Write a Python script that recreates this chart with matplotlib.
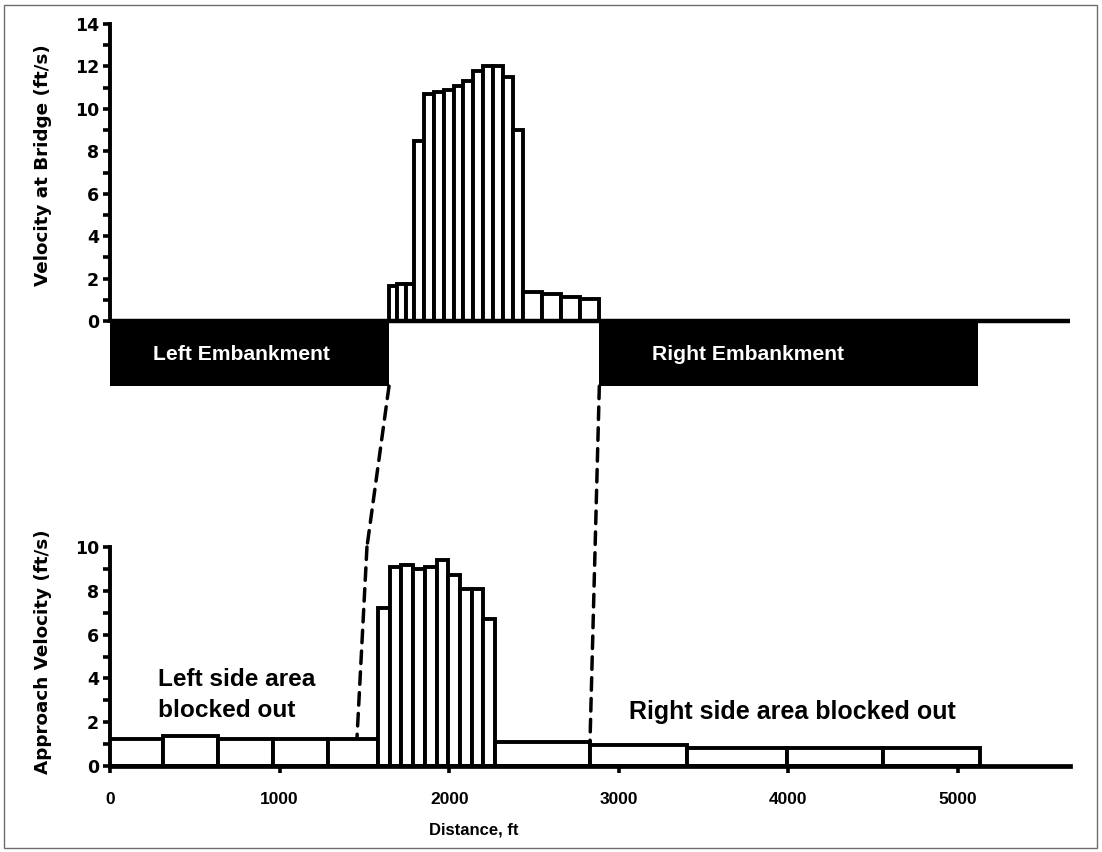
import matplotlib
matplotlib.use("Agg")
import matplotlib.pyplot as plt
from matplotlib.patches import ConnectionPatch, Rectangle
from matplotlib.ticker import FixedLocator

plt.rcParams['font.family'] = ['Liberation Sans', 'DejaVu Sans']
plt.rcParams['font.weight'] = 'bold'

# ---------------- data ----------------
# Velocity at bridge opening (top panel): bar edges (ft) and velocities (ft/s)
bridge_edges_ft = [1645, 1694, 1743, 1792, 1850, 1909, 1967, 2026, 2084, 2143,
                   2201, 2260, 2318, 2377, 2435, 2548, 2660, 2773, 2885]
bridge_velocity = [1.65, 1.75, 1.75, 8.5, 10.7, 10.8, 10.9, 11.1, 11.3, 11.8,
                   12.0, 12.0, 11.5, 9.0, 1.35, 1.25, 1.15, 1.05]

# Embankments (ft) and their drawn depth below zero
left_embankment_ft = [0, 1645]
right_embankment_ft = [2885, 5120]
embankment_depth = 3.07

# Approach section (bottom panel): bar edges (ft) and velocities (ft/s)
approach_edges_ft = [0, 312, 637, 961, 1285, 1580, 1649, 1718, 1787, 1856, 1925,
                     1994, 2063, 2132, 2201, 2270, 2830, 3402, 3992, 4558, 5130]
approach_velocity = [1.25, 1.35, 1.25, 1.25, 1.25, 7.2, 9.1, 9.2, 9.0, 9.1,
                     9.4, 8.7, 8.1, 8.1, 6.7, 1.1, 0.95, 0.8, 0.8, 0.8]

x_ticks = [0, 1000, 2000, 3000, 4000, 5000]
top_y_ticks = [0, 2, 4, 6, 8, 10, 12, 14]
top_y_minor = [1, 3, 5, 7, 9, 11, 13]
bot_y_ticks = [0, 2, 4, 6, 8, 10]
bot_y_minor = [1, 3, 5, 7, 9]
x_max = 5660

# ---------------- figure ----------------
W, H = 1102, 852
fig = plt.figure(figsize=(W / 100, H / 100), dpi=100)
fig.patch.set_facecolor('white')
fig.add_artist(Rectangle((4 / W, 4 / H), 1 - 9 / W, 1 - 9 / H, transform=fig.transFigure,
                         fill=False, edgecolor='#6e6e6e', linewidth=1.0))


def px_axes(x0, x1, ytop, ybot):
    return fig.add_axes([x0 / W, 1 - ybot / H, (x1 - x0) / W, (ybot - ytop) / H])


bar_lw = 2.8
spine_lw = 2.8
ytick_font = {'family': ['DejaVu Sans'], 'weight': 'bold', 'size': 12.5}
label_font = dict(family=['DejaVu Sans'], fontweight='bold', fontsize=13.2)


def style_yticks(ax, major, minor):
    ax.yaxis.set_major_locator(FixedLocator(major))
    ax.yaxis.set_minor_locator(FixedLocator(minor))
    ax.tick_params(axis='y', which='both', direction='out', length=5, width=2.6, pad=3)
    ax.set_yticklabels([str(v) for v in major], fontdict=ytick_font)


# ---- top panel ----
top_ppu = (321 - 24) / 14.0
ax1 = px_axes(110, 1070, 24, 321 + 4 * top_ppu)
ax1.set_xlim(0, x_max)
ax1.set_ylim(-4, 14)

bw = [b - a for a, b in zip(bridge_edges_ft[:-1], bridge_edges_ft[1:])]
ax1.bar(bridge_edges_ft[:-1], bridge_velocity, width=bw, align='edge',
        facecolor='white', edgecolor='black', linewidth=bar_lw, zorder=3)
ax1.plot([0, x_max], [0, 0], color='black', lw=3.2, solid_capstyle='butt', zorder=4)
for emb in (left_embankment_ft, right_embankment_ft):
    ax1.bar(emb[0], -embankment_depth, width=emb[1] - emb[0], align='edge',
            color='black', linewidth=0, zorder=4)
ax1.text(772, -1.56, 'Left Embankment', color='white', ha='center', va='center',
         fontsize=15.2, fontweight='bold', zorder=5)
ax1.text(3761, -1.56, 'Right Embankment', color='white', ha='center', va='center',
         fontsize=15.2, fontweight='bold', zorder=5)

for s in ('top', 'right', 'bottom'):
    ax1.spines[s].set_visible(False)
ax1.spines['left'].set_linewidth(spine_lw)
ax1.spines['left'].set_bounds(0, 14)
ax1.set_xticks([])
style_yticks(ax1, top_y_ticks, top_y_minor)
ax1.patch.set_alpha(0)
fig.text(43 / W, 1 - 165 / H, 'Velocity at Bridge (ft/s)', rotation=90,
         ha='center', va='center', **label_font)

# ---- bottom panel ----
ax2 = px_axes(110, 1070, 547, 766)
ax2.set_xlim(0, x_max)
ax2.set_ylim(0, 10)
aw = [b - a for a, b in zip(approach_edges_ft[:-1], approach_edges_ft[1:])]
ax2.bar(approach_edges_ft[:-1], approach_velocity, width=aw, align='edge',
        facecolor='white', edgecolor='black', linewidth=bar_lw, zorder=3)
for s in ('top', 'right'):
    ax2.spines[s].set_visible(False)
ax2.spines['left'].set_linewidth(spine_lw)
ax2.spines['bottom'].set_linewidth(spine_lw + 0.6)
ax2.spines['bottom'].set_zorder(5)
ax2.set_xticks(x_ticks)
ax2.tick_params(axis='x', which='both', direction='out', length=5, width=2.6,
                labelsize=12.5, pad=14)
style_yticks(ax2, bot_y_ticks, bot_y_minor)
ax2.patch.set_alpha(0)
fig.text(43 / W, 1 - 652 / H, 'Approach Velocity (ft/s)', rotation=90,
         ha='center', va='center', **label_font)
ax2.text(2146, -2.9, 'Distance, ft', ha='center', va='center', fontsize=12,
         fontweight='bold', clip_on=False)
ax2.text(283, 3.65, 'Left side area', ha='left', va='baseline', fontsize=17.6,
         fontweight='bold')
ax2.text(283, 2.24, 'blocked out', ha='left', va='baseline', fontsize=17.6,
         fontweight='bold')
ax2.text(3058, 2.15, 'Right side area blocked out', ha='left', va='baseline',
         fontsize=18.0, fontweight='bold')

# ---- dashed connectors ----
dash = (0, (3.6, 2.4))
c1 = ConnectionPatch(xyA=(left_embankment_ft[1], -embankment_depth), coordsA=ax1.transData,
                     xyB=(1515, 10), coordsB=ax2.transData,
                     linestyle=dash, linewidth=2.5, color='black')
c2 = ConnectionPatch(xyA=(1515, 10), coordsA=ax2.transData,
                     xyB=(1456, 1.25), coordsB=ax2.transData,
                     linestyle=dash, linewidth=2.5, color='black')
c3 = ConnectionPatch(xyA=(right_embankment_ft[0], -embankment_depth), coordsA=ax1.transData,
                     xyB=(2830, 1.1), coordsB=ax2.transData,
                     linestyle=dash, linewidth=2.5, color='black')
for c in (c1, c2, c3):
    fig.add_artist(c)

fig.savefig('out.png', dpi=100)
